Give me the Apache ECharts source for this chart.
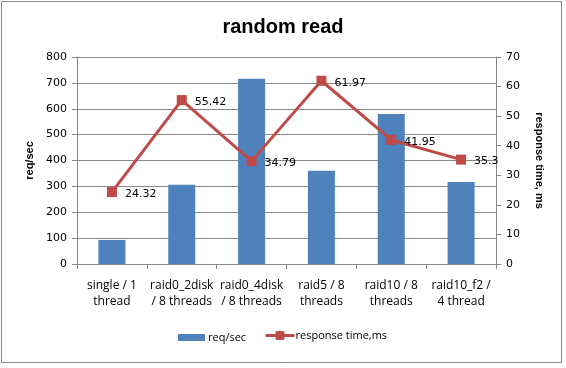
<!DOCTYPE html>
<html><head><meta charset="utf-8">
<script src="https://cdn.jsdelivr.net/npm/echarts@6/dist/echarts.min.js"></script>
<style>html,body{margin:0;padding:0;background:#fff}#c{width:566px;height:368px}</style>
</head><body><div id="c"></div>
<script>
const categories = ['single / 1\nthread', 'raid0_2disk\n/ 8 threads', 'raid0_4disk\n/ 8 threads', 'raid5 / 8\nthreads', 'raid10 / 8\nthreads', 'raid10_f2 /\n4 thread'];
const reqPerSec = [93, 306, 716, 360, 580, 317];
const responseMs = [24.32, 55.42, 34.79, 61.97, 41.95, 35.3];
const leftTicks = [0, 800, 100];
const rightTicks = [0, 70, 10];

const FONT = 'Open Sans';
const NUM = 'DejaVu Sans';
const NAME = 'Liberation Sans';
const chart = echarts.init(document.getElementById('c'), null, {renderer: 'canvas'});
chart.setOption({
  animation: false,
  textStyle: {fontFamily: FONT},
  title: {text: 'random read', left: 'center', top: 12,
    textStyle: {fontFamily: NAME, fontSize: 20, fontWeight: 'bold', color: '#000'}},
  graphic: [{type: 'rect', shape: {x: 1.5, y: 1.5, width: 560, height: 361},
    style: {fill: 'none', stroke: '#868686', lineWidth: 1}, silent: true, z: -1}],
  grid: {left: 77, right: 70, top: 57, bottom: 104},
  legend: [
    {top: 327, left: 173, itemWidth: 27, itemHeight: 7, itemGap: 0,
      textStyle: {fontFamily: FONT, fontSize: 11, color: '#000', padding: [0, 0, 0, -2]},
      data: [{name: 'req/sec', icon: 'rect'}]},
    {top: 325, left: 259, itemWidth: 29, itemHeight: 11,
      textStyle: {fontFamily: FONT, fontSize: 11, color: '#000', padding: [0, 0, 0, -4]},
      data: [{name: 'response time,ms', lineStyle: {width: 3}}]}
  ],
  xAxis: {type: 'category', data: categories, boundaryGap: true,
    axisLine: {lineStyle: {color: '#868686'}},
    axisTick: {show: true, length: 5, lineStyle: {color: '#868686'}},
    axisLabel: {fontFamily: FONT, fontSize: 12, color: '#000', lineHeight: 16, margin: 14, interval: 0}},
  yAxis: [
    {type: 'value', min: leftTicks[0], max: leftTicks[1], interval: leftTicks[2],
      name: 'req/sec', nameLocation: 'middle', nameGap: 42, nameRotate: 90,
      nameTextStyle: {fontFamily: NAME, fontSize: 11, fontWeight: 'bold', color: '#000'},
      axisLine: {show: true, lineStyle: {color: '#868686'}},
      axisTick: {show: true, length: 5, lineStyle: {color: '#868686'}},
      axisLabel: {fontFamily: NUM, fontSize: 11, color: '#000', margin: 10},
      splitLine: {show: true, lineStyle: {color: '#868686'}}},
    {type: 'value', min: rightTicks[0], max: rightTicks[1], interval: rightTicks[2],
      name: 'response time, ms', nameLocation: 'middle', nameGap: 38, nameRotate: -90,
      nameTextStyle: {fontFamily: NAME, fontSize: 11, fontWeight: 'bold', color: '#000'},
      axisLine: {show: true, lineStyle: {color: '#868686'}},
      axisTick: {show: true, length: 5, lineStyle: {color: '#868686'}},
      axisLabel: {fontFamily: NUM, fontSize: 11, color: '#000', margin: 10},
      splitLine: {show: false}}
  ],
  series: [
    {name: 'req/sec', type: 'bar', data: reqPerSec, barWidth: 27, yAxisIndex: 0,
      itemStyle: {color: '#4F81BD'}},
    {name: 'response time,ms', type: 'line', data: responseMs, yAxisIndex: 1,
      symbol: 'rect', symbolSize: 10,
      lineStyle: {color: '#BE4B48', width: 3}, itemStyle: {color: '#BE4B48'},
      label: {show: true, position: 'right', distance: 8, offset: [0, 2],
        fontFamily: NUM, fontSize: 11, color: '#000'}}
  ]
});
</script></body></html>
